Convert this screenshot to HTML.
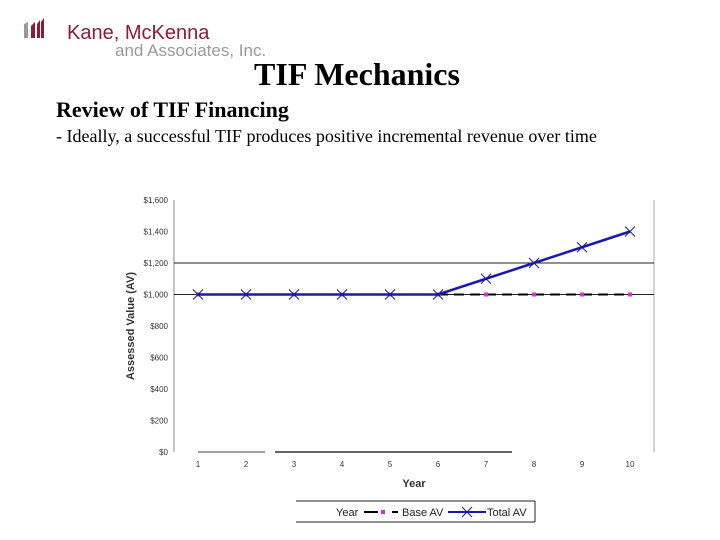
<!DOCTYPE html>
<html><head><meta charset="utf-8"><style>
body{margin:0;width:720px;height:540px;background:#fff;position:relative;overflow:hidden;font-family:"Liberation Sans",sans-serif}
.abs{position:absolute;white-space:nowrap}
</style></head><body>
<svg class="abs" style="left:22px;top:18px" width="24" height="24">
<polygon points="2,6 6,4 6,20 2,20" fill="#999"/><polygon points="9,8 13,4 13,20 9,20" fill="#8a1c3c"/><polygon points="15,6 18,2 18,20 15,20" fill="#8a1c3c"/><polygon points="19,4 22,0 22,20 19,20" fill="#8a1c3c"/></svg>
<div class="abs" style="left:67px;top:22px;font-size:20px;color:#8a1c3c">Kane, McKenna</div>
<div class="abs" style="left:115px;top:41px;font-size:17px;color:#999">and Associates, Inc.</div>
<div class="abs" style="left:0;width:714px;text-align:center;top:56px;font-family:'Liberation Serif',serif;font-weight:bold;font-size:32px">TIF Mechanics</div>
<div class="abs" style="left:56px;top:97px;font-family:'Liberation Serif',serif;font-weight:bold;font-size:22px">Review of TIF Financing</div>
<div class="abs" style="left:56px;top:126px;font-family:'Liberation Serif',serif;font-size:18px">- Ideally, a successful TIF produces positive incremental revenue over time</div>
<svg id="chart" class="abs" style="left:0;top:0" width="720" height="540"></svg>
<script>
const years=[1,2,3,4,5,6,7,8,9,10];
const baseAV=[1000,1000,1000,1000,1000,1000,1000,1000,1000,1000];
const totalAV=[1000,1000,1000,1000,1000,1000,1100,1200,1300,1400];
const yTicks=[0,200,400,600,800,1000,1200,1400,1600];
const NS='http://www.w3.org/2000/svg',svg=document.getElementById('chart');
const X0=174,X1=654,Y0=452,Y1=200;
const x=i=>X0+(i+0.5)*(X1-X0)/years.length;
const y=v=>Y0-(v/1600)*(Y0-Y1);
function el(t,a,p){const e=document.createElementNS(NS,t);for(const k in a)e.setAttribute(k,a[k]);(p||svg).appendChild(e);return e;}
let l=el('line',{x1:X0,y1:Y1,x2:X0,y2:Y0,stroke:'#888'});

l=el('line',{x1:X1,y1:Y1,x2:X1,y2:Y0,stroke:'#aaa'});

[1000,1200].forEach(v=>{const g=el('line',{x1:X0,y1:y(v),x2:X1,y2:y(v),stroke:'#222'});
});
l=el('line',{x1:198,y1:Y0,x2:265,y2:Y0,stroke:'#444'});

l=el('line',{x1:275,y1:Y0,x2:512,y2:Y0,stroke:'#334',"stroke-width":1.5});

yTicks.forEach(v=>{const t=el('text',{x:X0-6,y:y(v)+3,'text-anchor':'end','font-size':8,fill:'#333'});
t.textContent='$'+v.toLocaleString('en-US');
});
years.forEach((yr,i)=>{const t=el('text',{x:x(i),y:467,'text-anchor':'middle','font-size':8,fill:'#333'});
t.textContent=yr;});
let t=el('text',{x:414,y:487,'text-anchor':'middle','font-size':11,'font-weight':'bold',fill:'#333'});
t.textContent='Year';
t=el('text',{x:134,y:326,'text-anchor':'middle','font-size':11,'font-weight':'bold',fill:'#333',transform:'rotate(-90 134 326)'});
t.textContent='Assessed Value (AV)';
let p=el('polyline',{points:baseAV.map((v,i)=>x(i)+','+y(v)).join(' '),fill:'none',stroke:'#000','stroke-width':2,'stroke-dasharray':'10,6'});

baseAV.forEach((v,i)=>{const r=el('rect',{x:x(i)-2,y:y(v)-2,width:4,height:4,fill:'#cc33cc'});
});
p=el('polyline',{points:totalAV.map((v,i)=>x(i)+','+y(v)).join(' '),fill:'none',stroke:'#1a1aaa','stroke-width':2.5});

totalAV.forEach((v,i)=>{const m=el('path',{d:`M${x(i)-5},${y(v)-5}L${x(i)+5},${y(v)+5}M${x(i)-5},${y(v)+5}L${x(i)+5},${y(v)-5}`,stroke:'#1a1a88','stroke-width':1});
});
const lg=el('g',{});

el('line',{x1:296,y1:501,x2:535,y2:501,stroke:'#222'},lg);
el('line',{x1:296,y1:522,x2:535,y2:522,stroke:'#222'},lg);
el('line',{x1:535,y1:501,x2:535,y2:522,stroke:'#222'},lg);
t=el('text',{x:336,y:516,'font-size':11,fill:'#222'},lg);t.textContent='Year';
el('line',{x1:364,y1:512,x2:378,y2:512,stroke:'#000','stroke-width':2},lg);
el('rect',{x:381,y:510,width:4,height:4,fill:'#cc33cc'},lg);
el('line',{x1:392,y1:512,x2:398,y2:512,stroke:'#000','stroke-width':2},lg);
t=el('text',{x:402,y:516,'font-size':11,fill:'#222'},lg);t.textContent='Base AV';
el('line',{x1:448,y1:512,x2:486,y2:512,stroke:'#1a1aaa','stroke-width':2},lg);
el('path',{d:'M462,507L472,517M462,517L472,507',stroke:'#1a1a88'},lg);
t=el('text',{x:487,y:516,'font-size':11,fill:'#222'},lg);t.textContent='Total AV';
</script>
</body></html>
